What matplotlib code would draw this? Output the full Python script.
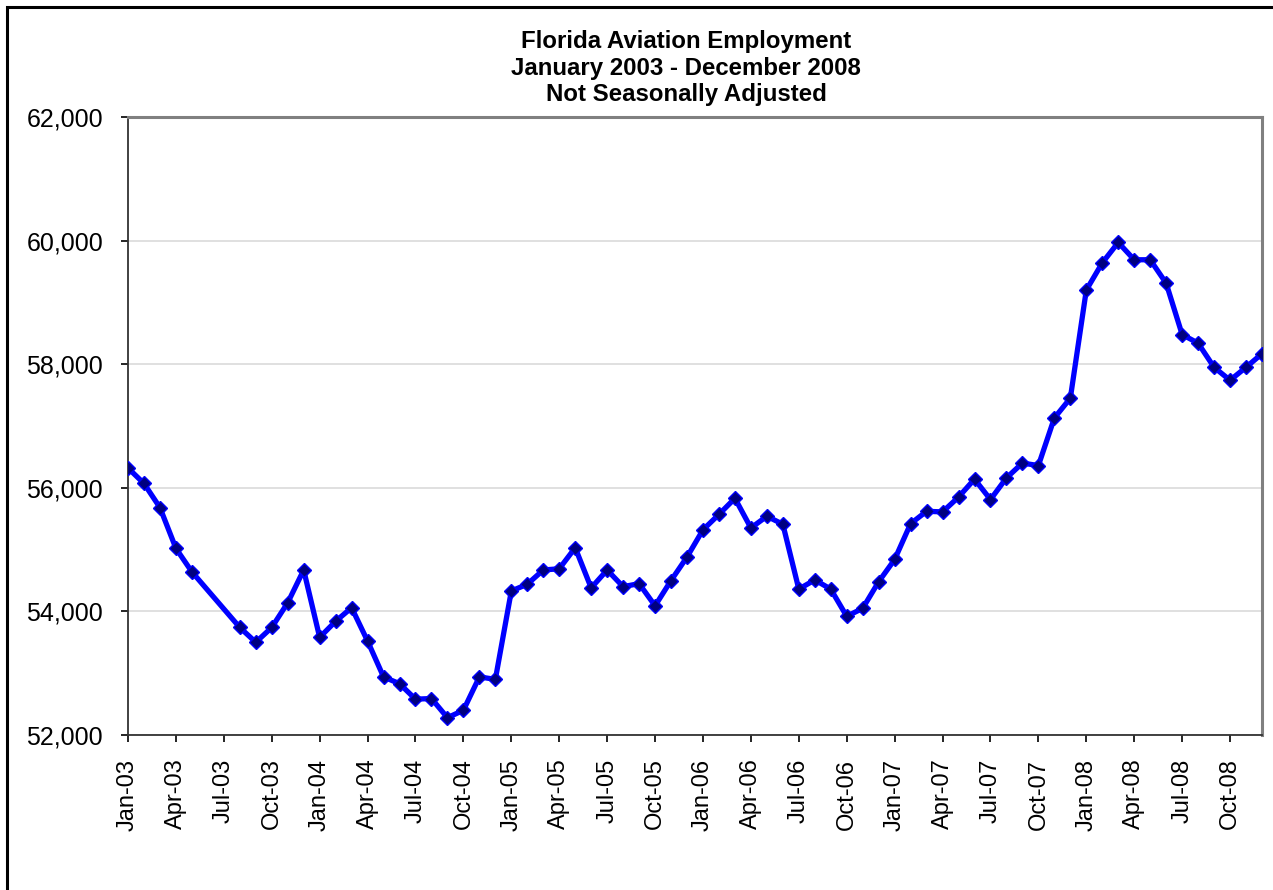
import numpy as np
import matplotlib.pyplot as plt
from matplotlib.patches import Rectangle

plt.rcParams['font.family'] = ['Liberation Sans', 'DejaVu Sans']

# monthly employment, Jan-2003 .. Dec-2008 (Jun/Jul 2003 not reported)
employment = [
    56320, 56070, 55680, 55020, 54640, np.nan, np.nan, 53740, 53500, 53740, 54140, 54670,
    53580, 53840, 54060, 53520, 52940, 52830, 52580, 52590, 52280, 52400, 52940, 52900,
    54330, 54440, 54670, 54690, 55030, 54380, 54670, 54400, 54450, 54090, 54500, 54880,
    55320, 55570, 55830, 55350, 55540, 55410, 54360, 54510, 54360, 53920, 54050, 54480,
    54840, 55420, 55620, 55610, 55850, 56140, 55810, 56160, 56400, 56360, 57130, 57450,
    59200, 59640, 59970, 59690, 59690, 59310, 58480, 58340, 57950, 57740, 57950, 58170,
]

tick_labels = [
    'Jan-03', 'Apr-03', 'Jul-03', 'Oct-03', 'Jan-04', 'Apr-04', 'Jul-04', 'Oct-04',
    'Jan-05', 'Apr-05', 'Jul-05', 'Oct-05', 'Jan-06', 'Apr-06', 'Jul-06', 'Oct-06',
    'Jan-07', 'Apr-07', 'Jul-07', 'Oct-07', 'Jan-08', 'Apr-08', 'Jul-08', 'Oct-08',
]
y_ticks = [52000, 54000, 56000, 58000, 60000, 62000]

vals = np.array(employment, dtype=float)
months = np.arange(len(vals))
ok = ~np.isnan(vals)

fig = plt.figure(figsize=(12.73, 8.90), dpi=100)
ax = fig.add_axes([128 / 1273, 1 - 735 / 890, (1262 - 128) / 1273, (735 - 117) / 890])

# outer chart border (runs off the right/bottom of the picture)
fig.patches.append(Rectangle((7 / 1273, -0.2), 1.2, 1.2 - 7 / 890, transform=fig.transFigure,
                             fill=False, edgecolor='black', linewidth=2.2, clip_on=False))

ax.plot(months[ok], vals[ok], color='#0000FF', linewidth=3.8, marker='D', markersize=7,
        markerfacecolor='#000080', markeredgecolor='#0000FF', markeredgewidth=1.0, zorder=3)

ax.set_xlim(0, len(vals) - 1)
ax.set_ylim(52000, 62000)
ax.set_yticks(y_ticks)
ax.set_yticklabels([f'{v:,}' for v in y_ticks])
ax.set_xticks(np.arange(0, len(vals), 3))
ax.set_xticklabels(tick_labels, rotation=90)

ax.grid(axis='y', color='#DDDDDD', linewidth=1.3)
ax.set_axisbelow(True)

for side in ['top', 'right']:
    ax.spines[side].set_color('#808080')
    ax.spines[side].set_linewidth(2.2)
for side in ['left', 'bottom']:
    ax.spines[side].set_color('#333333')
    ax.spines[side].set_linewidth(1.3)

ax.tick_params(axis='y', direction='out', length=5, width=1.2, labelsize=18, pad=13)
ax.tick_params(axis='x', direction='out', length=5, width=1.2, labelsize=17, pad=12)

fig.text(686 / 1273, 1 - 30 / 890,
         'Florida Aviation Employment\nJanuary 2003 - December 2008\nNot Seasonally Adjusted',
         ha='center', va='top', fontsize=17.3, fontweight='bold', linespacing=1.2)

fig.savefig('out.png', dpi=100)
